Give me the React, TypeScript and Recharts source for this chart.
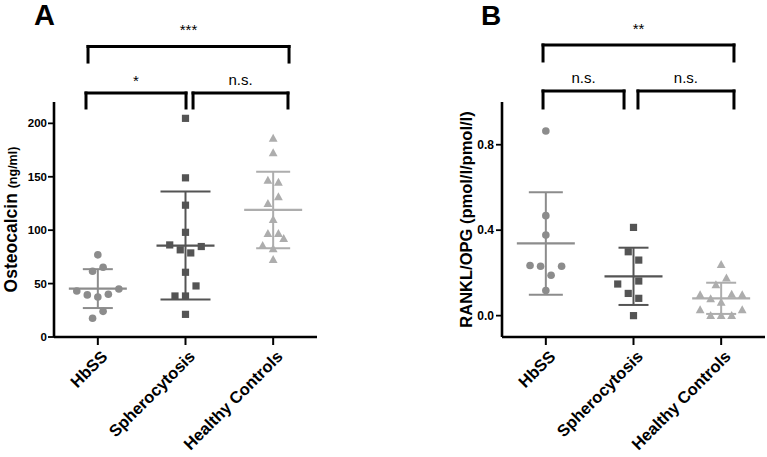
import React from 'react';
import { ScatterChart, Scatter, XAxis, YAxis, ErrorBar, ReferenceLine } from 'recharts';

const categories = ['HbSS', 'Spherocytosis', 'Healthy Controls'];
const JITTER_STEP = 0.12;
const COLORS = ['#8c8c8c', '#545454', '#adadad'];
const FONT = '"Liberation Sans", Arial, Helvetica, sans-serif';

// Panel A: Osteocalcin (ng/ml)
const osteoHbSS = [76.9, 65.3, 61.6, 45, 43.1, 40, 39.4, 37.5, 24, 17.5];
const osteoHbSSJitter = [0, 0.5, -0.5, 2, -2, 1, -1, 0, 0.5, -0.5];
const osteoSphero = [204.7, 149, 123.4, 98, 86.2, 81.6, 78.7, 84.7, 60.6, 47.8, 38.4, 38.4, 21.2];
const osteoSpheroJitter = [0, 0, 0, 0, -1.5, -0.5, 0.5, 1.5, 0, 1, -1, 0, 0];
const osteoHealthy = [186, 172.5, 146.6, 144.7, 131.2, 125, 110, 96.8, 96.8, 92.2, 85.6, 82.5, 72.5];
const osteoHealthyJitter = [0, 0, -0.5, 0.5, 0.5, -0.5, 0, -0.5, 0.5, 1, -1, 0, 0];
const osteoMeans = [45.3, 85.6, 119];
const osteoSDs = [18.2, 50.6, 35.8];
const osteoTicks = [0, 50, 100, 150, 200];
const osteoDomain = [0, 220];

// Panel B: RANKL/OPG
const ranklHbSS = [0.864, 0.468, 0.377, 0.235, 0.231, 0.231, 0.189, 0.118];
const ranklHbSSJitter = [0, 0, 0, -1.5, -0.5, 1.5, 0.5, 0];
const ranklSphero = [0.413, 0.299, 0.26, 0.162, 0.148, 0.104, 0.081, 0.0];
const ranklSpheroJitter = [0, -0.5, 0.5, 0.5, -1.5, -0.5, 0.5, 0];
const ranklHealthy = [0.239, 0.176, 0.144, 0.097, 0.097, 0.1, 0.078, 0.062, 0.027, 0.027, 0, 0, 0];
const ranklHealthyJitter = [0, 0.5, -0.5, -2, 2, 1, -1, 0, -2, 2, -1, 0, 1];
const ranklMeans = [0.338, 0.184, 0.081];
const ranklSDs = [0.24, 0.134, 0.073];
const ranklTicks = [0, 0.4, 0.8];
const ranklDomain = [-0.1, 1.0];

// significance brackets (x in category units, y in data units)
const osteoBrackets = [
  { x1: 0.388, x2: 2.681, top: 272, bottom: 257.4, label: '***', offset: 11 },
  { x1: 0.365, x2: 1.506, top: 228.4, bottom: 214.4, label: '*', offset: 7 },
  { x1: 1.586, x2: 2.669, top: 228.4, bottom: 214.4, label: 'n.s.', offset: 8 },
];
const ranklBrackets = [
  { x1: 0.468, x2: 2.646, top: 1.267, bottom: 1.192, label: '**', offset: 11 },
  { x1: 0.468, x2: 1.392, top: 1.0515, bottom: 0.972, label: 'n.s.', offset: 8 },
  { x1: 1.551, x2: 2.646, top: 1.0515, bottom: 0.972, label: 'n.s.', offset: 8 },
];

const toPoints = (values: number[], jitter: number[], idx: number) =>
  values.map((y, i) => ({ x: idx + 0.5 + jitter[i] * JITTER_STEP, y }));

const CircleShape = (p: any) => <circle cx={p.cx} cy={p.cy} r={3.8} fill={p.fill} />;
const SquareShape = (p: any) => (
  <rect x={p.cx - 3.6} y={p.cy - 3.6} width={7.2} height={7.2} fill={p.fill} />
);
const TriangleShape = (p: any) => (
  <polygon
    points={`${p.cx},${p.cy - 4.6} ${p.cx - 4.4},${p.cy + 3.4} ${p.cx + 4.4},${p.cy + 3.4}`}
    fill={p.fill}
  />
);
const SHAPES = [CircleShape, SquareShape, TriangleShape];

const meanShape = (color: string) => (p: any) => (
  <line x1={p.cx - 29} x2={p.cx + 29} y1={p.cy} y2={p.cy} stroke={color} strokeWidth={2.2} />
);

const XTick = (props: any) => {
  const { x, y, payload } = props;
  const label = categories[Math.round(payload.value - 0.5)];
  return (
    <g transform={`translate(${x},${y})`}>
      <text
        x={0}
        y={0}
        dy={15}
        dx={0}
        textAnchor="end"
        transform="rotate(-45)"
        fontSize={16.5}
        fontWeight="bold"
        fontFamily={FONT}
        fill="#000"
      >
        {label}
      </text>
    </g>
  );
};

const makeYTick = (fmt: (v: number) => string, size: number) => (props: any) => {
  const { x, y, payload } = props;
  return (
    <text x={x} y={y} dy={4} textAnchor="end" fontSize={size} fontWeight="bold" fontFamily={FONT} fill="#000">
      {fmt(payload.value)}
    </text>
  );
};

type PanelProps = {
  groups: { values: number[]; jitter: number[] }[];
  means: number[];
  sds: number[];
  caps: number[];
  ticks: number[];
  domain: number[];
  brackets: typeof osteoBrackets;
  yAxisWidth: number;
  width: number;
  rightMargin: number;
  yTick: (p: any) => React.ReactElement;
  yLabel: React.ReactNode;
  tickMargin: number;
};

const Panel = (props: PanelProps) => {
  const { groups, means, sds, caps, ticks, domain, brackets, yAxisWidth, width, rightMargin, yTick, yLabel, tickMargin } = props;
  return (
    <ScatterChart
      width={width}
      height={457}
      margin={{ top: 102, right: rightMargin, bottom: 20, left: 0 }}
    >
      <XAxis
        type="number"
        dataKey="x"
        domain={[0, 3]}
        ticks={[0.5, 1.5, 2.5]}
        allowDataOverflow
        height={100}
        axisLine={{ stroke: '#000', strokeWidth: 2.6 }}
        tickLine={{ stroke: '#000', strokeWidth: 2 }}
        tickSize={8}
        tick={<XTick />}
        interval={0}
      />
      <YAxis
        type="number"
        dataKey="y"
        domain={domain}
        ticks={ticks}
        allowDataOverflow
        width={yAxisWidth}
        axisLine={{ stroke: '#000', strokeWidth: 2.6 }}
        tickLine={{ stroke: '#000', strokeWidth: 1.8 }}
        tickSize={6}
        tickMargin={tickMargin}
        tick={yTick}
        label={yLabel as any}
        interval={0}
      />
      {groups.map((g, i) => (
        <Scatter
          key={`pts-${i}`}
          data={toPoints(g.values, g.jitter, i)}
          fill={COLORS[i]}
          shape={SHAPES[i]}
          isAnimationActive={false}
        />
      ))}
      {means.map((m, i) => (
        <Scatter
          key={`mean-${i}`}
          data={[{ x: i + 0.5, y: m, sd: sds[i] }]}
          fill={COLORS[i]}
          shape={meanShape(COLORS[i])}
          isAnimationActive={false}
        >
          <ErrorBar dataKey="sd" direction="y" width={caps[i]} stroke={COLORS[i]} strokeWidth={2} />
        </Scatter>
      ))}
      {brackets.map((b, i) => (
        <ReferenceLine
          key={`bh-${i}`}
          segment={[{ x: b.x1, y: b.top }, { x: b.x2, y: b.top }]}
          ifOverflow="visible"
          stroke="#000"
          strokeWidth={3}
          strokeLinecap="square"
          label={{ value: b.label, position: 'top', offset: b.offset, fontSize: 15, fill: '#000', fontFamily: FONT }}
        />
      ))}
      {brackets.map((b, i) => (
        <ReferenceLine
          key={`bl-${i}`}
          segment={[{ x: b.x1, y: b.top }, { x: b.x1, y: b.bottom }]}
          ifOverflow="visible"
          stroke="#000"
          strokeWidth={3}
          strokeLinecap="square"
        />
      ))}
      {brackets.map((b, i) => (
        <ReferenceLine
          key={`br-${i}`}
          segment={[{ x: b.x2, y: b.top }, { x: b.x2, y: b.bottom }]}
          ifOverflow="visible"
          stroke="#000"
          strokeWidth={3}
          strokeLinecap="square"
        />
      ))}
    </ScatterChart>
  );
};

const OsteoLabel = (p: any) => {
  const vb = p.viewBox || { x: 0, y: 102, width: 54, height: 235 };
  const cx = vb.x + 17;
  const cy = vb.y + vb.height / 2;
  return (
    <text x={cx} y={cy} transform={`rotate(-90, ${cx}, ${cy})`} textAnchor="middle" fontWeight="bold" fontFamily={FONT} fill="#000">
      <tspan fontSize={17.5}>Osteocalcin </tspan>
      <tspan fontSize={12.5}>(ng/ml)</tspan>
    </text>
  );
};

const RanklLabel = (p: any) => {
  const vb = p.viewBox || { x: 0, y: 102, width: 118, height: 235 };
  const cx = vb.x + 88;
  const cy = vb.y + vb.height / 2;
  return (
    <text x={cx} y={cy} transform={`rotate(-90, ${cx}, ${cy})`} textAnchor="middle" fontSize={16.5} fontWeight="bold" fontFamily={FONT} fill="#000">
      RANKL/OPG (pmol/l/pmol/l)
    </text>
  );
};

export default function App() {
  return (
    <div style={{ position: 'absolute', left: 0, top: 0, width: 767, height: 457, background: '#fff', overflow: 'hidden' }}>
      <div style={{ position: 'absolute', left: 0, top: 0 }}>
        <Panel
          groups={[
            { values: osteoHbSS, jitter: osteoHbSSJitter },
            { values: osteoSphero, jitter: osteoSpheroJitter },
            { values: osteoHealthy, jitter: osteoHealthyJitter },
          ]}
          means={osteoMeans}
          sds={osteoSDs}
          caps={[15, 25, 17]}
          ticks={osteoTicks}
          domain={osteoDomain}
          brackets={osteoBrackets}
          yAxisWidth={54}
          width={384}
          rightMargin={67}
          yTick={makeYTick((v) => String(v), 11.5)}
          yLabel={<OsteoLabel />}
          tickMargin={1}
        />
      </div>
      <div style={{ position: 'absolute', left: 384, top: 0 }}>
        <Panel
          groups={[
            { values: ranklHbSS, jitter: ranklHbSSJitter },
            { values: ranklSphero, jitter: ranklSpheroJitter },
            { values: ranklHealthy, jitter: ranklHealthyJitter },
          ]}
          means={ranklMeans}
          sds={ranklSDs}
          caps={[17, 15, 15]}
          ticks={ranklTicks}
          domain={ranklDomain}
          brackets={ranklBrackets}
          yAxisWidth={118}
          width={383}
          rightMargin={2}
          yTick={makeYTick((v) => v.toFixed(1), 12)}
          yLabel={<RanklLabel />}
          tickMargin={2}
        />
      </div>
      <svg width={767} height={457} style={{ position: 'absolute', left: 0, top: 0, pointerEvents: 'none' }}>
        <text x={34} y={25} fontSize={29} fontWeight="bold" fontFamily={FONT} fill="#000">A</text>
        <text x={481} y={25} fontSize={28} fontWeight="bold" fontFamily={FONT} fill="#000">B</text>
      </svg>
    </div>
  );
}
